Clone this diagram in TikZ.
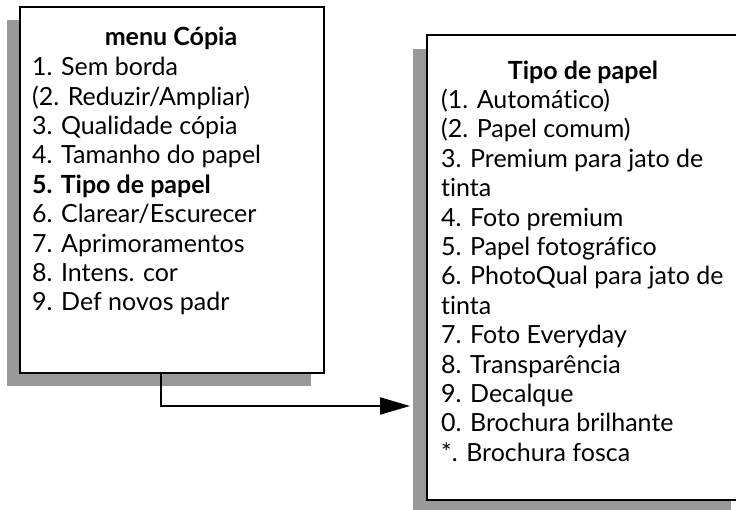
\documentclass[tikz,border=0pt]{standalone}
\usepackage{fontspec}
\setmainfont{Lato}[Ligatures=NoCommon]
\usepackage{tikz}
\usetikzlibrary{arrows.meta,positioning,shadows}
\definecolor{shadowgray}{gray}{0.6}

\begin{document}
\begin{tikzpicture}[
  x=1pt, y=-1pt,
  menubox/.style={draw, line width=2pt, fill=white, inner sep=0pt},
  menutitle/.style={anchor=base, font=\fontsize{25}{29.4}\selectfont\bfseries},
  menuitems/.style={anchor=north west, align=left, inner sep=0pt, font=\fontsize{25}{29.4}\selectfont},
  arr/.style={-{Triangle[length=30pt, width=17pt]}, line width=2pt},
]
  \useasboundingbox[clip] (0,0) rectangle (736,510);

  % menu Copia
  \node[menubox, minimum width=304pt, minimum height=366pt,
        drop shadow={shadow xshift=-13pt, shadow yshift=-13pt, fill=shadowgray, opacity=1}]
        (copymenu) at (172,190) {};
  \node[menutitle] (copytitle) at (171,46) {menu Cópia};
  \node[menuitems] (copyitems) at (32,57) {
    1. Sem borda\\
    (2. Reduzir/Ampliar)\\
    3. Qualidade cópia\\
    4. Tamanho do papel\\
    \textbf{5. Tipo de papel}\\
    6. Clarear/Escurecer\\
    7. Aprimoramentos\\
    8. Intens. cor\\
    9. Def novos padr
  };

  % Tipo de papel
  \node[menubox, minimum width=318pt, minimum height=465pt,
        drop shadow={shadow xshift=-14pt, shadow yshift=-14pt, fill=shadowgray, opacity=1}]
        (papermenu) at (586,267.5) {};
  \node[menutitle] (papertitle) at (583,80) {Tipo de papel};
  \node[menuitems] (paperitems) at (441,89) {
    (1. Automático)\\
    (2. Papel comum)\\
    3. Premium para jato de\\
    tinta\\
    4. Foto premium\\
    5. Papel fotográfico\\
    6. PhotoQual para jato de\\
    tinta\\
    7. Foto Everyday\\
    8. Transparência\\
    9. Decalque\\
    0. Brochura brilhante\\
    *. Brochura fosca
  };

  \coordinate (arrowtip) at (410,406);
  \draw[arr] ([xshift=-11pt]copymenu.south) |- (arrowtip);
\end{tikzpicture}
\end{document}
